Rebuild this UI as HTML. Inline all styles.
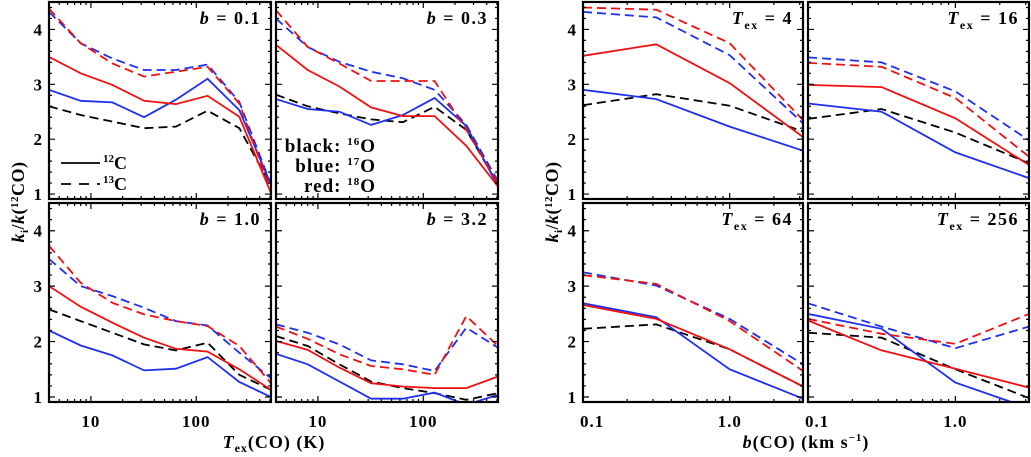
<!DOCTYPE html>
<html><head><meta charset="utf-8"><style>
body{margin:0;background:#fff}
svg{display:block}
text{font-family:"Liberation Serif",serif;font-weight:bold;fill:#000}
</style></head><body>
<svg id="fig" width="1031" height="457" viewBox="0 0 1031 457" xmlns="http://www.w3.org/2000/svg"></svg>
<script>
// ---- data ----
const tempCategories=[4,8,16,32,64,128,256,512];
const bCategories=[0.1,0.316,1.0,3.16];
const yTicks=[1,2,3,4];
const tempTickLabels=["10","100"];
const bTickLabels=["0.1","1.0"];
// panel b=0.1
const b01_13C16O=[2.6,2.44,2.32,2.2,2.23,2.52,2.2,1.15];
const b01_12C17O=[2.9,2.7,2.67,2.4,2.72,3.1,2.53,1.17];
const b01_12C18O=[3.5,3.2,2.99,2.7,2.64,2.79,2.41,1.02];
const b01_13C17O=[4.32,3.75,3.47,3.26,3.26,3.36,2.68,1.17];
const b01_13C18O=[4.38,3.75,3.38,3.14,3.23,3.32,2.65,1.05];
// panel b=0.3
const b03_13C16O=[2.81,2.6,2.47,2.36,2.31,2.59,2.17,1.17];
const b03_12C17O=[2.73,2.55,2.5,2.26,2.44,2.75,2.24,1.14];
const b03_12C18O=[3.72,3.26,2.96,2.58,2.42,2.42,1.88,1.14];
const b03_13C17O=[4.2,3.68,3.41,3.23,3.11,2.9,2.26,1.23];
const b03_13C18O=[4.35,3.68,3.38,3.06,3.06,3.06,2.17,1.2];
// panel b=1.0
const b10_13C16O=[2.58,2.37,2.16,1.95,1.84,1.98,1.4,1.13];
const b10_12C17O=[2.2,1.93,1.75,1.48,1.51,1.72,1.27,1.0];
const b10_12C18O=[3.0,2.63,2.34,2.07,1.87,1.82,1.5,1.13];
const b10_13C17O=[3.49,3.0,2.82,2.61,2.37,2.29,1.8,1.34];
const b10_13C18O=[3.73,3.06,2.7,2.49,2.37,2.28,1.92,1.25];
// panel b=3.2
const b32_13C16O=[2.1,1.92,1.59,1.28,1.16,1.07,0.95,1.07];
const b32_12C17O=[1.78,1.59,1.28,0.97,0.97,1.08,0.86,1.04];
const b32_12C18O=[2.01,1.85,1.53,1.25,1.19,1.16,1.16,1.37];
const b32_13C17O=[2.31,2.16,1.95,1.66,1.59,1.47,2.25,1.89];
const b32_13C18O=[2.27,2.05,1.77,1.56,1.5,1.4,2.46,1.92];
// panel Tex=4
const t4_13C16O=[2.62,2.82,2.61,2.14];
const t4_12C17O=[2.9,2.73,2.23,1.79];
const t4_12C18O=[3.52,3.73,3.02,2.04];
const t4_13C17O=[4.32,4.22,3.53,2.29];
const t4_13C18O=[4.4,4.36,3.75,2.35];
// panel Tex=16
const t16_13C16O=[2.37,2.55,2.12,1.56];
const t16_12C17O=[2.65,2.5,1.76,1.29];
const t16_12C18O=[2.99,2.95,2.38,1.53];
const t16_13C17O=[3.49,3.4,2.87,1.98];
const t16_13C18O=[3.39,3.32,2.75,1.68];
// panel Tex=64
const t64_13C16O=[2.23,2.31,1.86,1.19];
const t64_12C17O=[2.69,2.44,1.5,0.97];
const t64_12C18O=[2.66,2.41,1.86,1.19];
const t64_13C17O=[3.25,3.01,2.41,1.59];
const t64_13C18O=[3.2,3.04,2.37,1.47];
// panel Tex=256
const t256_13C16O=[2.16,2.07,1.5,0.98];
const t256_12C17O=[2.5,2.23,1.26,0.8];
const t256_12C18O=[2.38,1.84,1.51,1.17];
const t256_13C17O=[2.69,2.27,1.88,2.27];
const t256_13C18O=[2.41,2.14,1.96,2.5];

const NS="http://www.w3.org/2000/svg";
const svg=document.getElementById('fig');
function mk(tag,attrs,parent){const e=document.createElementNS(NS,tag);for(const k in attrs)e.setAttribute(k,attrs[k]);(parent||svg).appendChild(e);return e;}

const YMIN=0.91,YMAX=4.5;
function panel(name,x0,x1,y0,y1,xmin,xmax,series,label,showXLabels,xLabels,xLabelVals,showY){
  const g=mk('g',{});
  
  
  const lx=v=>x0+(Math.log10(v)-Math.log10(xmin))/(Math.log10(xmax)-Math.log10(xmin))*(x1-x0);
  const ly=v=>y1-(v-YMIN)/(YMAX-YMIN)*(y1-y0);
  const cid='c'+name;
  const cp=mk('clipPath',{id:cid},g);mk('rect',{x:x0,y:y0,width:x1-x0,height:y1-y0},cp);
  const cats=series.cats;
  const styles=[['13C16O','#000',true],['12C17O','#1f2ff0',false],['12C18O','#f01010',false],['13C17O','#1f2ff0',true],['13C18O','#f01010',true]];
  styles.forEach(([k,c,d])=>{
    const vals=series[k];
    const pts=vals.map((v,i)=>lx(cats[i]).toFixed(1)+','+ly(v).toFixed(1)).join(' ');
    const p=mk('polyline',{points:pts,fill:'none',stroke:c,'stroke-width':1.8,'stroke-dasharray':d?'9,5':'none','clip-path':'url(#'+cid+')'},g);
    
    
  });
  let tk='';
  for(let v=1;v<=4.41;v+=0.2){const y=ly(v);const maj=Math.abs(v-Math.round(v))<0.01;const L=maj?6:3;
    tk+=`M${x0},${y}h${L}M${x1},${y}h${-L}`;}
  const d0=Math.floor(Math.log10(xmin)),d1=Math.ceil(Math.log10(xmax));
  for(let d=d0;d<=d1;d++)for(let m=1;m<10;m++){const v=m*Math.pow(10,d);if(v<xmin*0.999||v>xmax*1.001)continue;const x=lx(v);const L=m==1?6:3;
    tk+=`M${x},${y1}v${-L}M${x},${y0}v${L}`;}
  mk('path',{d:tk,stroke:'#000','stroke-width':1.2,fill:'none'},g);
  const fr=mk('rect',{x:x0,y:y0,width:x1-x0,height:y1-y0,fill:'none',stroke:'#000','stroke-width':2.2},g);
  
  const t=mk('text',{x:x1-10,y:y0+22,'text-anchor':'end','font-size':18,'letter-spacing':'1.5'},g);t.innerHTML=label;
  
  if(showY){yTicks.forEach(v=>{const tt=mk('text',{x:x0-7,y:ly(v)+6,'text-anchor':'end','font-size':17},g);tt.textContent=v;
    });}
  if(showXLabels){xLabels.forEach((s,i)=>{const tt=mk('text',{x:lx(xLabelVals[i]),y:427,'text-anchor':'middle','font-size':17,'letter-spacing':'1'},g);tt.textContent=s;
    if(xLabelVals[i]===xmin){tt.setAttribute('x',x0-3);tt.setAttribute('text-anchor','start');}
    });}
  return g;
}
const T=tempCategories,B=bCategories;
const mkS=(cats,a,b,c,d,e)=>({cats,'13C16O':a,'12C17O':b,'12C18O':c,'13C17O':d,'13C18O':e});
const LX0=49,LX1=271,LX2=276,LX3=498,RX0=583,RX1=803,RX2=808,RX3=1029;
const TY0=2,TY1=199,BY0=203,BY1=402;
const bl=s=>`<tspan font-style="italic">b</tspan> = ${s}`;
panel('panel-b-0-1',LX0,LX1,TY0,TY1,4,512,mkS(T,b01_13C16O,b01_12C17O,b01_12C18O,b01_13C17O,b01_13C18O),bl('0.1'),false,[],[],true);
panel('panel-b-0-3',LX2,LX3,TY0,TY1,4,512,mkS(T,b03_13C16O,b03_12C17O,b03_12C18O,b03_13C17O,b03_13C18O),bl('0.3'),false,[],[],false);
panel('panel-b-1-0',LX0,LX1,BY0,BY1,4,512,mkS(T,b10_13C16O,b10_12C17O,b10_12C18O,b10_13C17O,b10_13C18O),bl('1.0'),true,tempTickLabels,[10,100],true);
panel('panel-b-3-2',LX2,LX3,BY0,BY1,4,512,mkS(T,b32_13C16O,b32_12C17O,b32_12C18O,b32_13C17O,b32_13C18O),bl('3.2'),true,tempTickLabels,[10,100],false);
const tl=n=>`<tspan font-style="italic">T</tspan><tspan font-size="12" dy="5">ex</tspan><tspan dy="-5"> = ${n}</tspan>`;
panel('panel-tex-4',RX0,RX1,TY0,TY1,0.1,3.16,mkS(B,t4_13C16O,t4_12C17O,t4_12C18O,t4_13C17O,t4_13C18O),tl(4),false,[],[],true);
panel('panel-tex-16',RX2,RX3,TY0,TY1,0.1,3.16,mkS(B,t16_13C16O,t16_12C17O,t16_12C18O,t16_13C17O,t16_13C18O),tl(16),false,[],[],false);
panel('panel-tex-64',RX0,RX1,BY0,BY1,0.1,3.16,mkS(B,t64_13C16O,t64_12C17O,t64_12C18O,t64_13C17O,t64_13C18O),tl(64),true,bTickLabels,[0.1,1.0],true);
panel('panel-tex-256',RX2,RX3,BY0,BY1,0.1,3.16,mkS(B,t256_13C16O,t256_12C17O,t256_12C18O,t256_13C17O,t256_13C18O),tl(256),true,bTickLabels,[0.1,1.0],false);
</script>
<svg width="1031" height="457" style="position:absolute;left:0;top:0;pointer-events:none" xmlns="http://www.w3.org/2000/svg">
<g font-family="Liberation Serif, serif" font-weight="bold">
<g>
<line x1="61" y1="163" x2="100" y2="163" stroke="#000" stroke-width="1.8"/>
<line x1="61" y1="184" x2="100" y2="184" stroke="#000" stroke-width="1.8" stroke-dasharray="10,8"/>
<text x="103" y="169" font-size="18"><tspan font-size="11" dy="-7">12</tspan><tspan dy="7">C</tspan></text>
<text x="103" y="190" font-size="18"><tspan font-size="11" dy="-7">13</tspan><tspan dy="7">C</tspan></text>
</g>
<g font-size="19" text-anchor="end" letter-spacing="1">
<text x="376" y="152" fill="#000">black: <tspan font-size="11" dy="-7">16</tspan><tspan dy="7">O</tspan></text>
<text x="376" y="172" fill="#1f2ff0">blue: <tspan font-size="11" dy="-7">17</tspan><tspan dy="7">O</tspan></text>
<text x="376" y="192" fill="#f01010">red: <tspan font-size="11" dy="-7">18</tspan><tspan dy="7">O</tspan></text>
</g>
<text transform="translate(24,202) rotate(-90)" text-anchor="middle" font-size="18" letter-spacing="0.5"><tspan font-style="italic">k</tspan><tspan font-size="11" dy="4">i</tspan><tspan dy="-4">/</tspan><tspan font-style="italic">k</tspan>(<tspan font-size="11" dy="-6">12</tspan><tspan dy="6">CO)</tspan></text>
<text transform="translate(558,202) rotate(-90)" text-anchor="middle" font-size="18" letter-spacing="0.5"><tspan font-style="italic">k</tspan><tspan font-size="11" dy="4">i</tspan><tspan dy="-4">/</tspan><tspan font-style="italic">k</tspan>(<tspan font-size="11" dy="-6">12</tspan><tspan dy="6">CO)</tspan></text>
<text x="274" y="448" text-anchor="middle" font-size="18" letter-spacing="1"><tspan font-style="italic">T</tspan><tspan font-size="12" dy="4">ex</tspan><tspan dy="-4">(CO) (K)</tspan></text>
<text x="806" y="448" text-anchor="middle" font-size="18" letter-spacing="1"><tspan font-style="italic">b</tspan>(CO) (km s<tspan font-size="11" dy="-7">−1</tspan><tspan dy="7">)</tspan></text>
</g>
</svg>
</body></html>
